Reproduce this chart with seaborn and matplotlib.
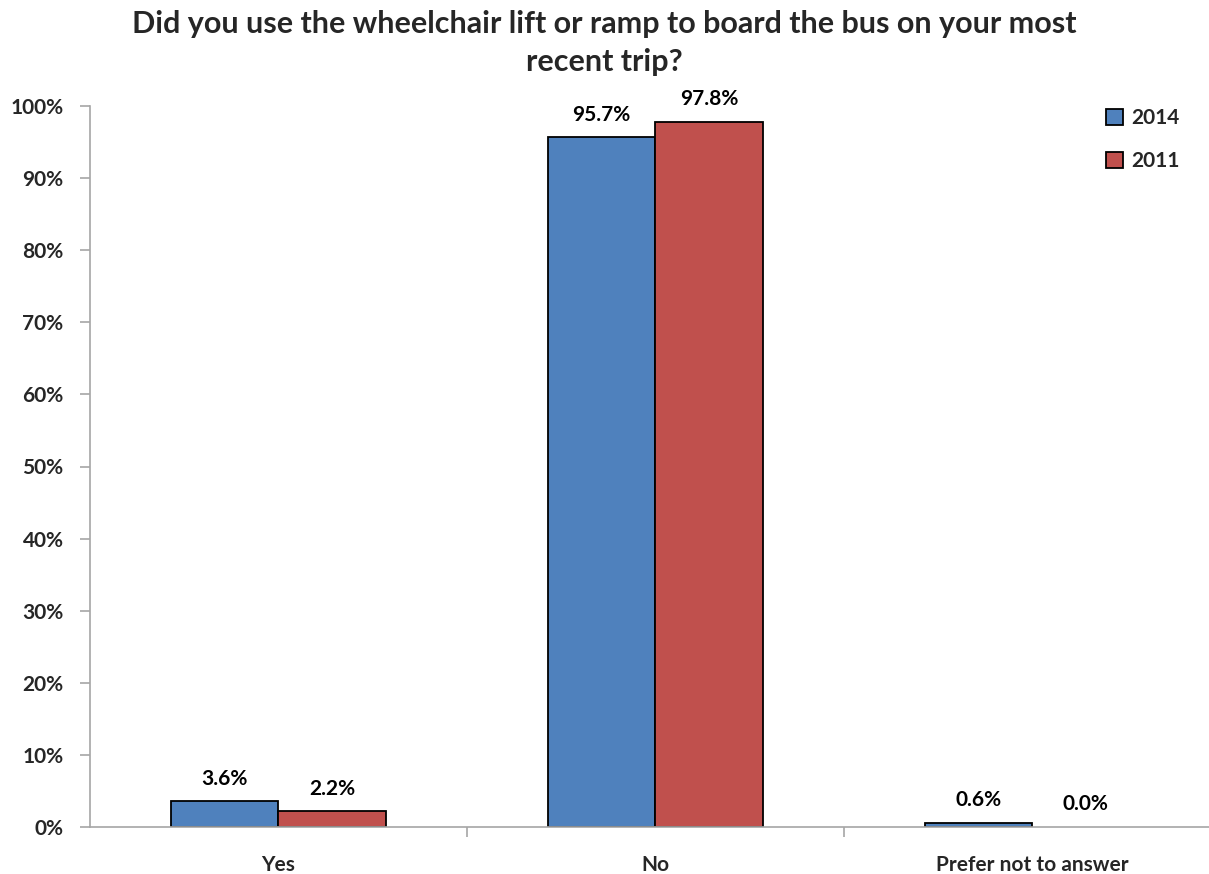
import matplotlib
matplotlib.use("Agg")
import matplotlib.pyplot as plt
import seaborn as sns
import pandas as pd
from matplotlib.ticker import FuncFormatter, FixedLocator

categories = ["Yes", "No", "Prefer not to answer"]
years = ["2014", "2011"]
values_2014 = [3.6, 95.7, 0.6]
values_2011 = [2.2, 97.8, 0.0]
title = "Did you use the wheelchair lift or ramp to board the bus on your most\nrecent trip?"

df = pd.DataFrame({
    "category": categories * 2,
    "year": [years[0]] * 3 + [years[1]] * 3,
    "value": values_2014 + values_2011,
})

sns.set_theme(style="white")
plt.rcParams["font.family"] = ["Lato", "DejaVu Sans"]
plt.rcParams["font.weight"] = "bold"

fig = plt.figure(figsize=(12.09, 8.74), dpi=100)
ax = fig.add_axes([90 / 1209, 47 / 874, 1 - 90 / 1209, (827 - 106) / 874])

palette = {"2014": "#4F81BD", "2011": "#C0504D"}
sns.barplot(data=df, x="category", y="value", hue="year", order=categories,
            hue_order=years, palette=palette, width=0.57, edgecolor="black",
            linewidth=1.3, saturation=1, ax=ax, legend=True)

for container in ax.containers:
    for bar in container:
        if bar.get_height() == 0:
            bar.set_linewidth(0)
    ax.bar_label(container, fmt="%.1f%%", padding=9, fontsize=15,
                 fontweight="bold", color="black")

ax.set_ylim(0, 100)
ax.set_xlim(-0.5, 2.47)
ax.yaxis.set_major_locator(FixedLocator(range(0, 101, 10)))
ax.yaxis.set_major_formatter(FuncFormatter(lambda v, _: f"{v:.0f}%"))
ax.set_xlabel("")
ax.set_ylabel("")

for side in ["top", "right"]:
    ax.spines[side].set_visible(False)
for side in ["left", "bottom"]:
    ax.spines[side].set_color("#a6a6a6")
    ax.spines[side].set_linewidth(1.2)

ax.tick_params(axis="y", which="major", left=True, length=7, width=1.2,
               color="#a6a6a6", labelsize=15, pad=12)
ax.tick_params(axis="x", which="major", bottom=False, labelsize=15, pad=14)
# category boundary ticks on the x axis
ax.set_xticks([0.5, 1.5], minor=True)
ax.tick_params(axis="x", which="minor", bottom=True, length=7, width=1.2,
               color="#a6a6a6")
for lbl in ax.get_xticklabels() + ax.get_yticklabels():
    lbl.set_fontweight("bold")

leg = ax.legend(loc="upper right", bbox_to_anchor=(0.985, 1.014), frameon=False,
                fontsize=15, handlelength=0.8, handleheight=0.8,
                handletextpad=0.4, labelspacing=1.1, borderaxespad=0.2)
for t in leg.get_texts():
    t.set_fontweight("bold")
for h in leg.legend_handles:
    h.set_edgecolor("black")
    h.set_linewidth(1.3)

fig.text(0.5, 0.988, title, ha="center", va="top", fontsize=22,
         fontweight="bold", linespacing=1.4)

fig.savefig("out.png", dpi=100)
